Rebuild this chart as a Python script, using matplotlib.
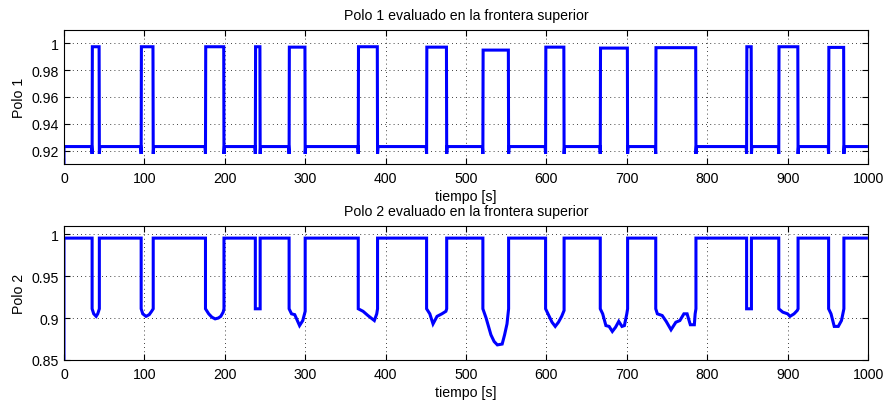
import matplotlib
matplotlib.use("Agg")
import matplotlib.pyplot as plt
from matplotlib.ticker import FuncFormatter

plt.rcParams['font.family'] = ['Liberation Sans', 'DejaVu Sans']

# instantes en que cada polo cambia de estado (s)
pulse_on = [35, 96, 176, 238, 280, 366, 451, 521, 599, 667, 736, 849, 889, 951]
pulse_off = [44, 111, 199, 244, 300, 390, 476, 553, 622, 701, 786, 855, 913, 970]

# polo 1: nivel bajo, pico de transicion y meseta alta de cada pulso
polo1_low = 0.923
polo1_spike = 0.9175
polo1_high = [0.9975, 0.9975, 0.9975, 0.9975, 0.9972, 0.9975, 0.9972,
              0.9950, 0.9972, 0.9965, 0.9968, 0.9975, 0.9975, 0.9970]

# polo 2: nivel alto y perfil dentro de cada pulso
polo2_high = 0.9952
polo2_dips = [
    [(35, 0.911), (37, 0.905), (40, 0.902), (42, 0.905), (44, 0.911)],
    [(96, 0.911), (98, 0.905), (102, 0.902), (106, 0.904), (109, 0.908), (111, 0.911)],
    [(176, 0.911), (180, 0.905), (184, 0.901), (188, 0.899), (192, 0.900), (195, 0.902),
     (198, 0.907), (199, 0.911)],
    [(238, 0.911), (244, 0.911)],
    [(280, 0.911), (283, 0.905), (287, 0.904), (293, 0.891), (297, 0.897), (300, 0.908)],
    [(366, 0.911), (372, 0.908), (378, 0.903), (386, 0.897), (389, 0.905), (390, 0.911)],
    [(451, 0.911), (455, 0.905), (459, 0.893), (464, 0.902), (470, 0.905), (475, 0.908),
     (476, 0.911)],
    [(521, 0.911), (525, 0.900), (531, 0.880), (535, 0.872), (539, 0.868), (545, 0.869),
     (548, 0.880), (551, 0.893), (553, 0.911)],
    [(599, 0.911), (603, 0.903), (607, 0.895), (611, 0.890), (615, 0.895), (619, 0.902),
     (622, 0.909)],
    [(667, 0.911), (670, 0.905), (674, 0.891), (678, 0.890), (682, 0.884), (686, 0.889),
     (690, 0.896), (694, 0.890), (697, 0.891), (700, 0.905), (701, 0.911)],
    [(736, 0.911), (738, 0.905), (744, 0.903), (749, 0.896), (755, 0.886), (761, 0.895),
     (766, 0.897), (771, 0.905), (775, 0.905), (779, 0.892), (784, 0.892), (785, 0.905),
     (786, 0.911)],
    [(849, 0.911), (855, 0.911)],
    [(889, 0.911), (894, 0.907), (900, 0.905), (903, 0.902), (908, 0.905), (912, 0.909),
     (913, 0.911)],
    [(951, 0.911), (954, 0.905), (958, 0.890), (963, 0.890), (967, 0.897), (970, 0.911)],
]
t_end = 998

# traza del polo 1
t1 = [0, 0]
v1 = [0.91, polo1_low]
for a, b, h in zip(pulse_on, pulse_off, polo1_high):
    t1 += [a - 0.6, a, a + 0.3, b - 0.3, b, b + 0.6]
    v1 += [polo1_low, polo1_spike, h, h, polo1_spike, polo1_low]
t1.append(t_end)
v1.append(polo1_low)

# traza del polo 2
t2 = [0, 0]
v2 = [0.85, polo2_high]
for prof in polo2_dips:
    t2 += [prof[0][0]] + [p[0] for p in prof] + [prof[-1][0]]
    v2 += [polo2_high] + [p[1] for p in prof] + [polo2_high]
t2.append(t_end)
v2.append(polo2_high)

fig = plt.figure(figsize=(8.86, 4.02), dpi=100)
ax1 = fig.add_axes([0.0722, 0.5896, 0.9075, 0.3333])
ax2 = fig.add_axes([0.0722, 0.1020, 0.9075, 0.3341])

fmt = FuncFormatter(lambda v, p: ('%g' % round(v, 4)))
fs = 10.2

for ax, t, v, ylim, yt, n in [(ax1, t1, v1, (0.91, 1.01), [0.92, 0.94, 0.96, 0.98, 1], 1),
                              (ax2, t2, v2, (0.85, 1.01), [0.85, 0.9, 0.95, 1], 2)]:
    ax.plot(t, v, color='#0000ff', lw=2.2, solid_joinstyle='miter')
    ax.set_xlim(0, 1000)
    ax.set_ylim(*ylim)
    ax.set_xticks(range(0, 1001, 100))
    ax.set_yticks(yt)
    ax.yaxis.set_major_formatter(fmt)
    ax.grid(True, color='black', linestyle=(0, (1, 4)), lw=0.6)
    ax.tick_params(direction='in', top=True, right=True, labelsize=fs, length=4, width=0.8)
    ax.tick_params(axis='x', pad=5)
    for s in ax.spines.values():
        s.set_linewidth(0.8)
    ax.set_xlabel('tiempo [s]', fontsize=fs, labelpad=3)
    ax.set_ylabel('Polo %d' % n, fontsize=fs, labelpad=4)
    ax.set_title('Polo %d evaluado en la frontera superior' % n, fontsize=fs, pad=8)

fig.savefig('out.png', dpi=100)
